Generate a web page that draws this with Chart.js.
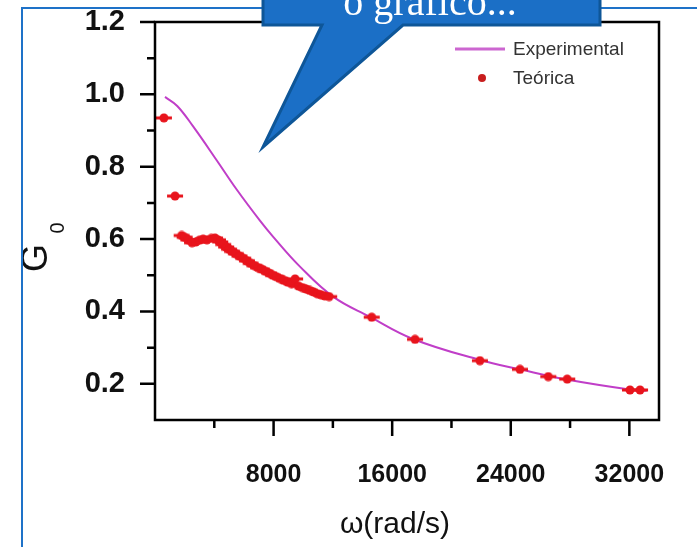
<!DOCTYPE html>
<html>
<head>
<meta charset="utf-8">
<script src="https://cdn.jsdelivr.net/npm/chart.js@4.4.1/dist/chart.umd.min.js"></script>
<style>
    html, body { margin: 0; padding: 0; background: #ffffff; }
    #wrap { width: 697px; height: 547px; position: relative; }
</style>
</head>
<body>
<div id="wrap"><canvas id="myChart" width="697" height="547"></canvas></div>
<script>
// Curva "Experimental" (linha)
const expOmega = [675, 1500, 2560, 4160, 5510, 7080, 7960, 9780, 12010, 14500, 17400, 21920, 24620, 27770, 32250, 33170];
const expG = [0.993, 0.968, 0.912, 0.818, 0.737, 0.651, 0.607, 0.524, 0.441, 0.385, 0.324, 0.266, 0.240, 0.212, 0.183, 0.181];

// Pontos "Teórica"
const teoOmega = [600, 1350,
    1800, 2000, 2250, 2500, 2750, 3000, 3250, 3500, 3800, 4050, 4250, 4400, 4600, 4800, 5000,
    5200, 5450, 5700, 5950, 6200, 6450, 6700, 6950, 7200, 7450, 7700, 7950, 8200, 8450, 8700,
    8950, 9200, 9450, 9700, 9950, 10200, 10450, 10700, 10950, 11200, 11450, 11750,
    14620, 17540, 21920, 24620, 26530, 27810, 32040, 32720];
const teoG = [0.935, 0.719,
    0.610, 0.605, 0.598, 0.590, 0.592, 0.597, 0.600, 0.598, 0.602, 0.603, 0.598, 0.592, 0.585, 0.578, 0.572,
    0.566, 0.560, 0.553, 0.547, 0.540, 0.533, 0.527, 0.521, 0.517, 0.511, 0.506, 0.500, 0.496, 0.491, 0.486,
    0.481, 0.477, 0.490, 0.470, 0.466, 0.462, 0.458, 0.454, 0.449, 0.446, 0.443, 0.441,
    0.384, 0.323, 0.264, 0.240, 0.220, 0.213, 0.183, 0.183];

// Eixos
const xMajor = [8000, 16000, 24000, 32000];
const xMinor = [4000, 12000, 20000, 28000];
const yMajor = [0.2, 0.4, 0.6, 0.8, 1.0, 1.2];
const yMinor = [0.3, 0.5, 0.7, 0.9, 1.1];

const legendLabels = ['Experimental', 'Teórica'];

const lineColor = '#c03ec8';
const dotColor = '#e8141c';

// Marcador: ponto com pequena barra horizontal
function makeMarker() {
    const c = document.createElement('canvas');
    c.width = 18;
    c.height = 10;
    const g = c.getContext('2d');
    g.fillStyle = dotColor;
    g.fillRect(1, 3.5, 16, 3);
    g.beginPath();
    g.arc(9, 5, 4.5, 0, Math.PI * 2);
    g.fill();
    return c;
}

const frameDecor = {
    id: 'frameDecor',
    afterDraw(chart) {
        const ctx = chart.ctx;
        const a = chart.chartArea;
        const xs = chart.scales.x;
        const ys = chart.scales.y;

        ctx.save();
        // caixa do grafico
        ctx.strokeStyle = '#000';
        ctx.lineWidth = 2.5;
        ctx.strokeRect(a.left, a.top, a.right - a.left, a.bottom - a.top);

        // ticks
        ctx.lineWidth = 2.5;
        ctx.beginPath();
        xMajor.forEach(v => { const p = xs.getPixelForValue(v); ctx.moveTo(p, a.bottom); ctx.lineTo(p, a.bottom + 16); });
        xMinor.forEach(v => { const p = xs.getPixelForValue(v); ctx.moveTo(p, a.bottom); ctx.lineTo(p, a.bottom + 8); });
        yMajor.forEach(v => { const p = ys.getPixelForValue(v); ctx.moveTo(a.left, p); ctx.lineTo(a.left - 15, p); });
        yMinor.forEach(v => { const p = ys.getPixelForValue(v); ctx.moveTo(a.left, p); ctx.lineTo(a.left - 8, p); });
        ctx.stroke();

        // titulos dos eixos
        ctx.fillStyle = '#111';
        ctx.font = '30px "Liberation Sans", Arial, sans-serif';
        ctx.textAlign = 'center';
        ctx.textBaseline = 'alphabetic';
        ctx.fillText('ω(rad/s)', 395, 533);

        ctx.save();
        ctx.translate(37, 258);
        ctx.rotate(-Math.PI / 2);
        ctx.textBaseline = 'middle';
        ctx.font = '36px "Liberation Sans", Arial, sans-serif';
        ctx.fillText('G', 0, 0);
        ctx.font = '20px "Liberation Sans", Arial, sans-serif';
        ctx.fillText('0', 30, 21);
        ctx.restore();

        // legenda
        ctx.strokeStyle = '#cc66d0';
        ctx.lineWidth = 3;
        ctx.beginPath();
        ctx.moveTo(455, 49);
        ctx.lineTo(505, 49);
        ctx.stroke();
        ctx.fillStyle = '#c81e1e';
        ctx.beginPath();
        ctx.arc(482, 78, 4, 0, Math.PI * 2);
        ctx.fill();
        ctx.fillStyle = '#333';
        ctx.font = '19px "Liberation Sans", Arial, sans-serif';
        ctx.textAlign = 'left';
        ctx.textBaseline = 'middle';
        ctx.fillText(legendLabels[0], 513, 50);
        ctx.fillText(legendLabels[1], 513, 79);

        // moldura azul
        ctx.strokeStyle = '#1e72c8';
        ctx.lineWidth = 2;
        ctx.beginPath();
        ctx.moveTo(22, 548);
        ctx.lineTo(22, 8);
        ctx.lineTo(697, 8);
        ctx.stroke();

        // balao
        ctx.beginPath();
        ctx.moveTo(263, -6);
        ctx.lineTo(263, 25);
        ctx.lineTo(322, 25);
        ctx.lineTo(263, 147);
        ctx.lineTo(403, 25);
        ctx.lineTo(600, 25);
        ctx.lineTo(600, -6);
        ctx.closePath();
        ctx.fillStyle = '#1b6fc6';
        ctx.fill();
        ctx.strokeStyle = '#0e5698';
        ctx.lineWidth = 3;
        ctx.lineJoin = 'miter';
        ctx.stroke();

        ctx.fillStyle = '#ffffff';
        ctx.font = '40px "Liberation Serif", "Times New Roman", serif';
        ctx.textAlign = 'center';
        ctx.textBaseline = 'alphabetic';
        ctx.fillText('o gráfico...', 430, 15);
        ctx.restore();
    }
};

const ctx = document.getElementById('myChart').getContext('2d');
const myChart = new Chart(ctx, {
    type: 'scatter',
    data: {
        datasets: [
            {
                label: legendLabels[1],
                data: teoOmega.map((x, i) => ({ x: x, y: teoG[i] })),
                pointStyle: makeMarker(),
                pointRadius: 5,
                order: 0
            },
            {
                label: legendLabels[0],
                data: expOmega.map((x, i) => ({ x: x, y: expG[i] })),
                showLine: true,
                borderColor: lineColor,
                borderWidth: 2,
                pointRadius: 0,
                tension: 0.4,
                order: 1
            }
        ]
    },
    options: {
        responsive: false,
        animation: false,
        events: [],
        layout: { padding: { top: 22, right: 38, left: 0, bottom: 0 } },
        plugins: {
            legend: { display: false },
            tooltip: { enabled: false }
        },
        scales: {
            x: {
                type: 'linear',
                min: 0,
                max: 34000,
                grid: { display: false },
                border: { display: false },
                afterBuildTicks: s => { s.ticks = xMajor.map(v => ({ value: v })); },
                afterFit: s => { s.height = 127; s.paddingLeft = 0; s.paddingRight = 0; },
                ticks: {
                    padding: 32,
                    color: '#111',
                    font: { family: '"Liberation Sans", Arial, sans-serif', size: 25, weight: 'bold' },
                    callback: v => String(v)
                }
            },
            y: {
                type: 'linear',
                min: 0.1,
                max: 1.2,
                grid: { display: false },
                border: { display: false },
                afterBuildTicks: s => { s.ticks = yMajor.map(v => ({ value: v })); },
                afterFit: s => { s.width = 155; s.paddingTop = 0; s.paddingBottom = 0; },
                ticks: {
                    padding: 22,
                    color: '#111',
                    font: { family: '"Liberation Sans", Arial, sans-serif', size: 29, weight: 'bold' },
                    callback: v => v.toFixed(1)
                }
            }
        }
    },
    plugins: [frameDecor]
});
</script>
</body>
</html>
